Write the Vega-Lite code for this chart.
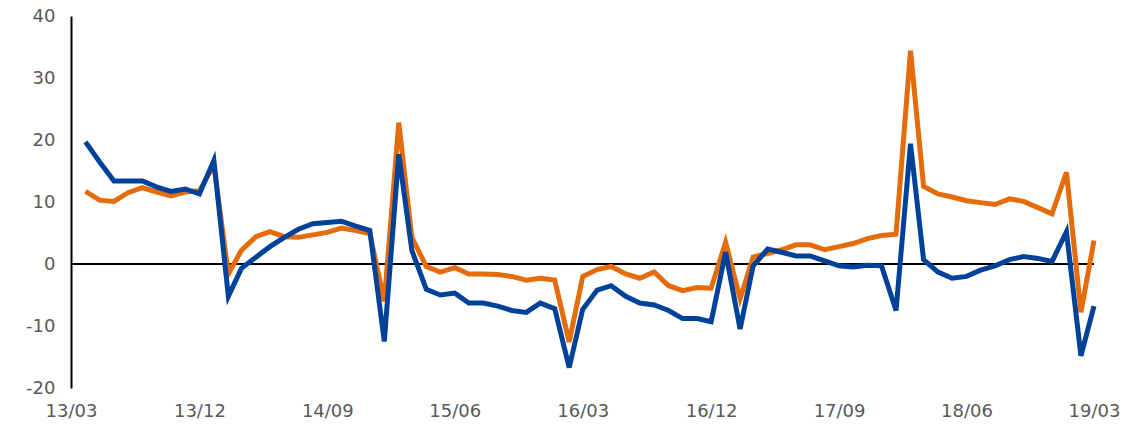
{
  "$schema": "https://vega.github.io/schema/vega-lite/v6.json",
  "autosize": "none",
  "width": 1023,
  "height": 372,
  "padding": {"left": 71, "top": 16, "right": 38, "bottom": 36},
  "background": "white",
  "config": {"view": {"stroke": null}},
  "data": {"values": [
    {"date": "2013-04-01", "orange": 11.7, "blue": 19.7},
    {"date": "2013-05-01", "orange": 10.3, "blue": 16.5},
    {"date": "2013-06-01", "orange": 10.1, "blue": 13.4},
    {"date": "2013-07-01", "orange": 11.5, "blue": 13.4},
    {"date": "2013-08-01", "orange": 12.3, "blue": 13.4},
    {"date": "2013-09-01", "orange": 11.6, "blue": 12.4},
    {"date": "2013-10-01", "orange": 11.0, "blue": 11.7},
    {"date": "2013-11-01", "orange": 11.6, "blue": 12.1},
    {"date": "2013-12-01", "orange": 11.8, "blue": 11.3},
    {"date": "2014-01-01", "orange": 16.0, "blue": 16.7},
    {"date": "2014-02-01", "orange": -1.6, "blue": -5.2},
    {"date": "2014-03-01", "orange": 2.2, "blue": -0.7},
    {"date": "2014-04-01", "orange": 4.4, "blue": 1.1},
    {"date": "2014-05-01", "orange": 5.2, "blue": 2.8},
    {"date": "2014-06-01", "orange": 4.4, "blue": 4.3},
    {"date": "2014-07-01", "orange": 4.3, "blue": 5.6},
    {"date": "2014-08-01", "orange": 4.7, "blue": 6.5},
    {"date": "2014-09-01", "orange": 5.1, "blue": 6.7},
    {"date": "2014-10-01", "orange": 5.8, "blue": 6.9},
    {"date": "2014-11-01", "orange": 5.4, "blue": 6.1},
    {"date": "2014-12-01", "orange": 4.9, "blue": 5.4},
    {"date": "2015-01-01", "orange": -6.0, "blue": -12.5},
    {"date": "2015-02-01", "orange": 22.8, "blue": 17.7},
    {"date": "2015-03-01", "orange": 4.3, "blue": 2.2},
    {"date": "2015-04-01", "orange": -0.4, "blue": -4.1},
    {"date": "2015-05-01", "orange": -1.3, "blue": -5.0},
    {"date": "2015-06-01", "orange": -0.6, "blue": -4.7},
    {"date": "2015-07-01", "orange": -1.6, "blue": -6.3},
    {"date": "2015-08-01", "orange": -1.6, "blue": -6.3},
    {"date": "2015-09-01", "orange": -1.7, "blue": -6.8},
    {"date": "2015-10-01", "orange": -2.0, "blue": -7.5},
    {"date": "2015-11-01", "orange": -2.6, "blue": -7.8},
    {"date": "2015-12-01", "orange": -2.3, "blue": -6.3},
    {"date": "2016-01-01", "orange": -2.6, "blue": -7.2},
    {"date": "2016-02-01", "orange": -12.6, "blue": -16.7},
    {"date": "2016-03-01", "orange": -2.0, "blue": -7.3},
    {"date": "2016-04-01", "orange": -0.9, "blue": -4.2},
    {"date": "2016-05-01", "orange": -0.4, "blue": -3.5},
    {"date": "2016-06-01", "orange": -1.6, "blue": -5.2},
    {"date": "2016-07-01", "orange": -2.3, "blue": -6.3},
    {"date": "2016-08-01", "orange": -1.3, "blue": -6.6},
    {"date": "2016-09-01", "orange": -3.5, "blue": -7.5},
    {"date": "2016-10-01", "orange": -4.3, "blue": -8.8},
    {"date": "2016-11-01", "orange": -3.8, "blue": -8.8},
    {"date": "2016-12-01", "orange": -3.9, "blue": -9.3},
    {"date": "2017-01-01", "orange": 3.5, "blue": 1.9},
    {"date": "2017-02-01", "orange": -5.6, "blue": -10.5},
    {"date": "2017-03-01", "orange": 1.1, "blue": -0.3},
    {"date": "2017-04-01", "orange": 1.7, "blue": 2.4},
    {"date": "2017-05-01", "orange": 2.3, "blue": 1.9},
    {"date": "2017-06-01", "orange": 3.1, "blue": 1.3},
    {"date": "2017-07-01", "orange": 3.1, "blue": 1.3},
    {"date": "2017-08-01", "orange": 2.3, "blue": 0.5},
    {"date": "2017-09-01", "orange": 2.8, "blue": -0.3},
    {"date": "2017-10-01", "orange": 3.3, "blue": -0.5},
    {"date": "2017-11-01", "orange": 4.1, "blue": -0.2},
    {"date": "2017-12-01", "orange": 4.6, "blue": -0.3},
    {"date": "2018-01-01", "orange": 4.8, "blue": -7.5},
    {"date": "2018-02-01", "orange": 34.4, "blue": 19.4},
    {"date": "2018-03-01", "orange": 12.5, "blue": 0.7},
    {"date": "2018-04-01", "orange": 11.3, "blue": -1.3},
    {"date": "2018-05-01", "orange": 10.8, "blue": -2.3},
    {"date": "2018-06-01", "orange": 10.2, "blue": -2.0},
    {"date": "2018-07-01", "orange": 9.9, "blue": -1.0},
    {"date": "2018-08-01", "orange": 9.6, "blue": -0.3},
    {"date": "2018-09-01", "orange": 10.5, "blue": 0.7},
    {"date": "2018-10-01", "orange": 10.1, "blue": 1.2},
    {"date": "2018-11-01", "orange": 9.1, "blue": 0.9},
    {"date": "2018-12-01", "orange": 8.1, "blue": 0.4},
    {"date": "2019-01-01", "orange": 14.8, "blue": 5.2},
    {"date": "2019-02-01", "orange": -7.8, "blue": -14.8},
    {"date": "2019-03-01", "orange": 3.8, "blue": -6.8}
  ]},
  "encoding": {
    "x": {
      "field": "date",
      "type": "temporal",
      "title": null,
      "scale": {
        "type": "utc",
        "domain": [
          {"year": 2013, "month": 3, "date": 1, "utc": true},
          {"year": 2019, "month": 3, "date": 1, "utc": true}
        ]
      },
      "axis": {
        "values": [
          {"year": 2013, "month": 3, "date": 1, "utc": true},
          {"year": 2013, "month": 12, "date": 1, "utc": true},
          {"year": 2014, "month": 9, "date": 1, "utc": true},
          {"year": 2015, "month": 6, "date": 1, "utc": true},
          {"year": 2016, "month": 3, "date": 1, "utc": true},
          {"year": 2016, "month": 12, "date": 1, "utc": true},
          {"year": 2017, "month": 9, "date": 1, "utc": true},
          {"year": 2018, "month": 6, "date": 1, "utc": true},
          {"year": 2019, "month": 3, "date": 1, "utc": true}
        ],
        "labelExpr": "utcFormat(datum.value, '%y/%m')",
        "domain": false,
        "ticks": false,
        "grid": false,
        "labelPadding": 14,
        "labelFont": "DejaVu Sans",
        "labelFontSize": 18,
        "labelColor": "#595959",
        "labelOverlap": false,
        "labelFlush": false
      }
    }
  },
  "layer": [
    {
      "mark": {"type": "rule", "color": "#000000", "strokeWidth": 1.5},
      "encoding": {"y": {"datum": 0, "type": "quantitative"}, "x": {"value": 0}, "x2": {"value": 1023}}
    },
    {
      "mark": {"type": "line", "color": "#E46C0A", "strokeWidth": 5, "strokeJoin": "miter", "strokeCap": "butt"},
      "encoding": {
        "y": {
          "field": "orange",
          "type": "quantitative",
          "title": null,
          "scale": {"domain": [-20, 40], "nice": false, "zero": false},
          "axis": {
            "values": [-20, -10, 0, 10, 20, 30, 40],
            "labelExpr": "'' + datum.value",
            "grid": false,
            "ticks": false,
            "domainColor": "#000000",
            "domainWidth": 2,
            "labelPadding": 16,
            "labelFont": "DejaVu Sans",
            "labelFontSize": 18,
            "labelColor": "#595959"
          }
        }
      }
    },
    {
      "mark": {"type": "line", "color": "#00429A", "strokeWidth": 5, "strokeJoin": "miter", "strokeCap": "butt"},
      "encoding": {
        "y": {"field": "blue", "type": "quantitative"}
      }
    }
  ]
}
